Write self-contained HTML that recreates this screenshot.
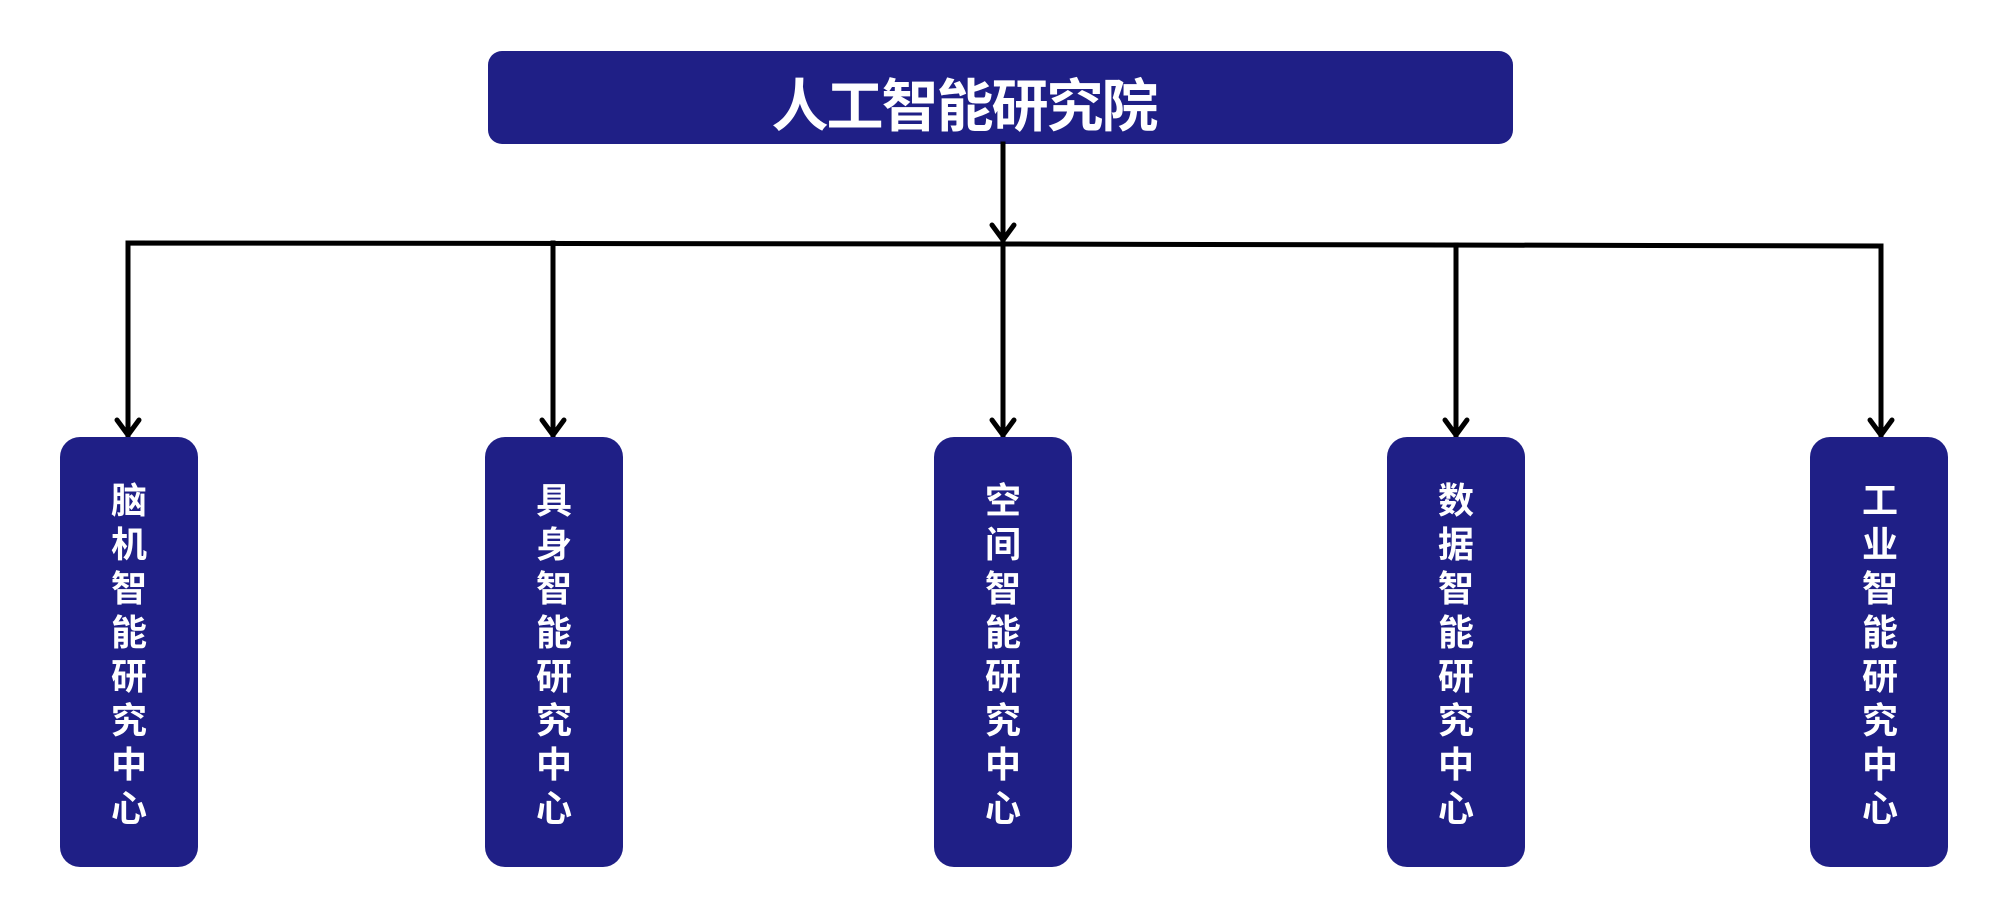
<!DOCTYPE html>
<html><head><meta charset="utf-8"><style>
html,body{margin:0;padding:0;background:#fff;}
svg{display:block;}
text{font-family:"Liberation Sans","Noto Sans CJK SC",sans-serif;font-weight:bold;fill:#fff;}
</style></head><body>
<svg width="2000" height="902" viewBox="0 0 2000 902" xmlns="http://www.w3.org/2000/svg">
<rect x="488" y="51" width="1025" height="93" rx="14" fill="#1f1f86"/>
<text x="964" y="126" font-size="57" text-anchor="middle" letter-spacing="-2">人工智能研究院</text>
<g stroke="#000" stroke-width="5" fill="none" stroke-linecap="square">
<line x1="1003" y1="144" x2="1003" y2="240"/>
<polyline points="128,437 128,243 1003,244 1881,246 1881,437"/>
<line x1="553" y1="243" x2="553" y2="437"/>
<line x1="1003" y1="244" x2="1003" y2="437"/>
<line x1="1456" y1="245" x2="1456" y2="437"/>
</g>
<g stroke="#000" stroke-width="5" fill="none" stroke-linejoin="miter" stroke-linecap="round">
<polyline points="992,225 1003,240 1014,225"/>
<polyline points="117,420 128,435 139,420"/>
<polyline points="542,420 553,435 564,420"/>
<polyline points="992,420 1003,435 1014,420"/>
<polyline points="1445,420 1456,435 1467,420"/>
<polyline points="1870,420 1881,435 1892,420"/>
</g>
<g fill="#1f1f86">
<rect x="60" y="437" width="138" height="430" rx="20"/>
<rect x="485" y="437" width="138" height="430" rx="20"/>
<rect x="934" y="437" width="138" height="430" rx="20"/>
<rect x="1387" y="437" width="138" height="430" rx="20"/>
<rect x="1810" y="437" width="138" height="430" rx="20"/>
</g>
<g font-size="36" text-anchor="middle">
<text x="129" y="513">脑</text><text x="129" y="557">机</text><text x="129" y="601">智</text><text x="129" y="645">能</text><text x="129" y="689">研</text><text x="129" y="733">究</text><text x="129" y="777">中</text><text x="129" y="821">心</text>
<text x="554" y="513">具</text><text x="554" y="557">身</text><text x="554" y="601">智</text><text x="554" y="645">能</text><text x="554" y="689">研</text><text x="554" y="733">究</text><text x="554" y="777">中</text><text x="554" y="821">心</text>
<text x="1003" y="513">空</text><text x="1003" y="557">间</text><text x="1003" y="601">智</text><text x="1003" y="645">能</text><text x="1003" y="689">研</text><text x="1003" y="733">究</text><text x="1003" y="777">中</text><text x="1003" y="821">心</text>
<text x="1456" y="513">数</text><text x="1456" y="557">据</text><text x="1456" y="601">智</text><text x="1456" y="645">能</text><text x="1456" y="689">研</text><text x="1456" y="733">究</text><text x="1456" y="777">中</text><text x="1456" y="821">心</text>
<text x="1880" y="513">工</text><text x="1880" y="557">业</text><text x="1880" y="601">智</text><text x="1880" y="645">能</text><text x="1880" y="689">研</text><text x="1880" y="733">究</text><text x="1880" y="777">中</text><text x="1880" y="821">心</text>
</g>
</svg>
</body></html>
